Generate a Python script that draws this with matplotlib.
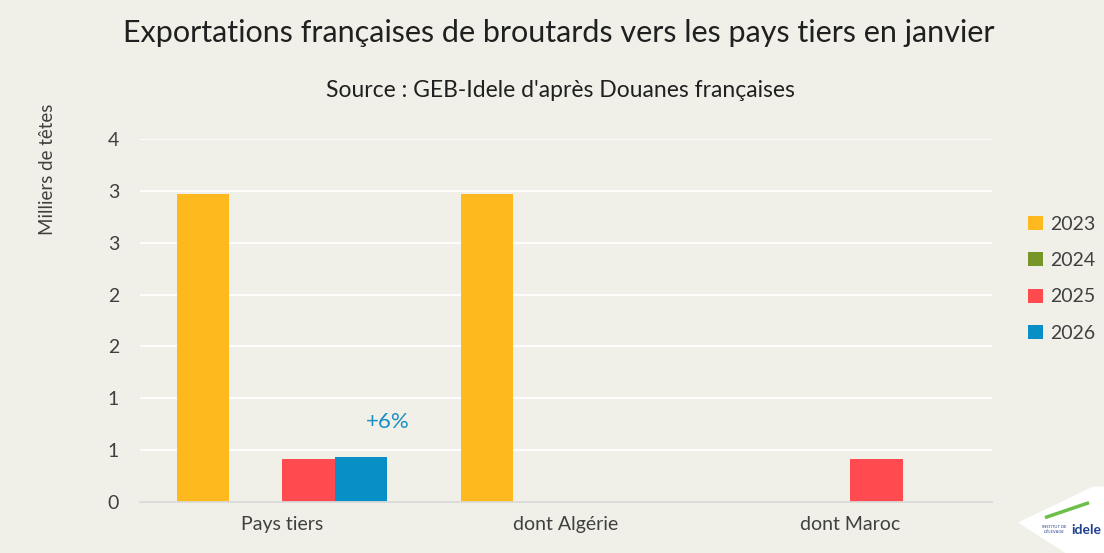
import matplotlib.pyplot as plt
import numpy as np
from matplotlib.patches import Polygon

# Données (milliers de têtes)
categories = ["Pays tiers", "dont Algérie", "dont Maroc"]
years = ["2023", "2024", "2025", "2026"]
values_2023 = [2.97, 2.97, 0.0]
values_2024 = [0.0, 0.0, 0.0]
values_2025 = [0.415, 0.0, 0.415]
values_2026 = [0.435, 0.0, 0.0]
series = [values_2023, values_2024, values_2025, values_2026]
colors = ["#FDB91D", "#76962A", "#FF4A4F", "#088FC6"]
y_ticks = [0, 0.5, 1, 1.5, 2, 2.5, 3, 3.5]

bg = "#F0F0E8"
fig = plt.figure(figsize=(11.04, 5.53), dpi=100, facecolor=bg)
ax = fig.add_axes([0.1268, 0.0922, 0.7718, 0.6564], facecolor=bg)

x = np.arange(len(categories))
w = 0.185
for i, (vals, col, yr) in enumerate(zip(series, colors, years)):
    ax.bar(x + (i - 1.5) * w, vals, width=w, color=col, label=yr)

ax.set_xlim(-0.5, 2.5)
ax.set_ylim(0, 3.5)
ax.set_yticks(y_ticks)
# arrondi "Excel" : 0.5 -> 1
ax.set_yticklabels([str(int(np.floor(t + 0.5))) for t in y_ticks])
ax.set_xticks(x)
ax.set_xticklabels(categories)
ax.grid(axis="y", color="white", linewidth=1.3)
ax.set_axisbelow(True)
for s in ["top", "right", "left"]:
    ax.spines[s].set_visible(False)
ax.spines["bottom"].set_color("#D9D9D9")
ax.spines["bottom"].set_linewidth(1.3)
ax.tick_params(length=0, labelcolor="#404040", labelsize=14)
ax.tick_params(axis="x", pad=10)
ax.tick_params(axis="y", pad=15)
for lab in ax.get_xticklabels() + ax.get_yticklabels():
    lab.set_family("Lato")

ax.text(0.373, 0.77, "+6%", color="#1A8FC4", fontsize=16, ha="center", va="center", family="Lato")

fig.text(0.506, 0.94, "Exportations françaises de broutards vers les pays tiers en janvier",
         ha="center", va="center", fontsize=22, color="#202020", family="Lato")
fig.text(0.508, 0.836, "Source : GEB-Idele d'après Douanes françaises",
         ha="center", va="center", fontsize=16.5, color="#202020", family="Lato")
fig.text(0.043, 0.694, "Milliers de têtes", rotation=90, ha="center", va="center",
         fontsize=13.5, color="#404040", family="Lato")

leg = ax.legend(loc="center left", bbox_to_anchor=(1.022, 0.615), frameon=False,
                handlelength=0.75, handleheight=0.75, labelspacing=1.0,
                handletextpad=0.35, prop={"family": "Lato", "size": 14})
for t in leg.get_texts():
    t.set_color("#404040")

# logo approximatif
fig.patches.append(Polygon([(0.922, 0.055), (0.99, 0.12), (1.0, 0.12), (1.0, 0.0), (0.965, 0.0)],
                           closed=True, transform=fig.transFigure,
                           facecolor="white", edgecolor="none", joinstyle="round"))
fig.text(0.998, 0.042, "idele", ha="right", va="center", fontsize=10, weight="bold",
         color="#1F3F8F", family="Lato")
fig.text(0.955, 0.042, "INSTITUT DE\nL'ÉLEVAGE", ha="center", va="center", fontsize=3,
         color="#1F3F8F", family="Lato")
fig.lines.append(plt.Line2D([0.948, 0.985], [0.065, 0.09], transform=fig.transFigure,
                            color="#6CC04A", linewidth=2.5))

fig.savefig("out.png", dpi=100, facecolor=bg)
